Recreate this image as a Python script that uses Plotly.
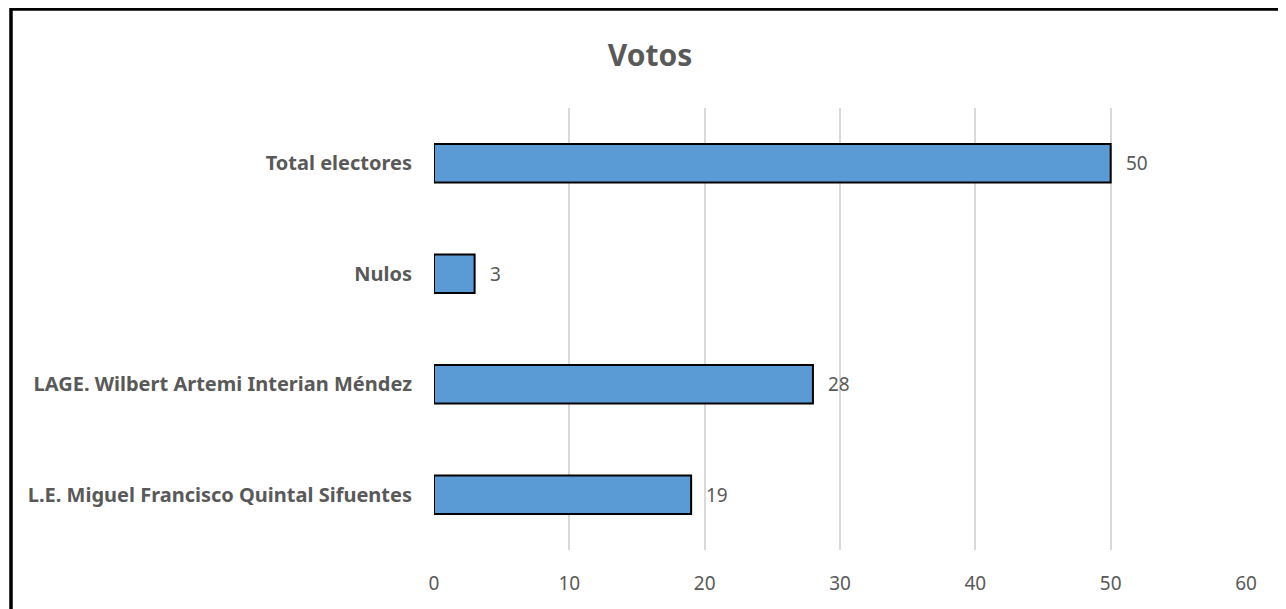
import plotly.graph_objects as go

categories = ["L.E. Miguel Francisco Quintal Sifuentes",
              "LAGE. Wilbert Artemi Interian Méndez",
              "Nulos",
              "Total electores"]
votes = [19, 28, 3, 50]
x_ticks = [0, 10, 20, 30, 40, 50, 60]

W, H = 1286, 609
# page has an 8px body margin; offset everything by it
OFF = 8
L, R, T, B = 434 - OFF, 40 + OFF, 108 - OFF, 59 + OFF
PW, PH = W - L - R, H - T - B

fig = go.Figure(go.Bar(
    y=categories, x=votes, orientation="h",
    marker=dict(color="#5b9bd5", line=dict(color="#000000", width=2)),
    width=0.35,
    hoverinfo="x+y",
))

for c, v in zip(categories, votes):
    fig.add_annotation(x=v, y=c, text=str(v), showarrow=False,
                       xanchor="left", xshift=13,
                       font=dict(family="Noto Sans", size=19, color="#595959"))

fig.update_layout(
    width=W, height=H,
    margin=dict(l=L, r=R, t=T, b=B),
    paper_bgcolor="white", plot_bgcolor="white",
    showlegend=False,
    title=dict(text="<b>Votos</b>", x=(650 - OFF) / W, xanchor="center",
               y=1 - (55 - OFF) / H, yanchor="middle",
               font=dict(family="Noto Sans", size=30, color="#595959")),
    xaxis=dict(range=[0, 60], tickvals=x_ticks, showgrid=True,
               gridcolor="#d9d9d9", gridwidth=2, zeroline=False,
               showline=False, ticks="", ticklabelstandoff=20,
               tickfont=dict(family="Noto Sans", size=19, color="#595959")),
    yaxis=dict(categoryorder="array", categoryarray=categories,
               showgrid=False, zeroline=False, showline=False, ticks="",
               ticklabelstandoff=21,
               tickfont=dict(family="Noto Sans", size=20, color="#595959",
                             weight="bold")),
    shapes=[dict(type="rect", xref="paper", yref="paper",
                 x0=(11 - OFF - L) / PW, x1=1.2,
                 y0=-0.3, y1=1 + (T - (9 - OFF)) / PH,
                 line=dict(color="black", width=3.5), fillcolor="rgba(0,0,0,0)")],
)

fig.write_html("out.html")
